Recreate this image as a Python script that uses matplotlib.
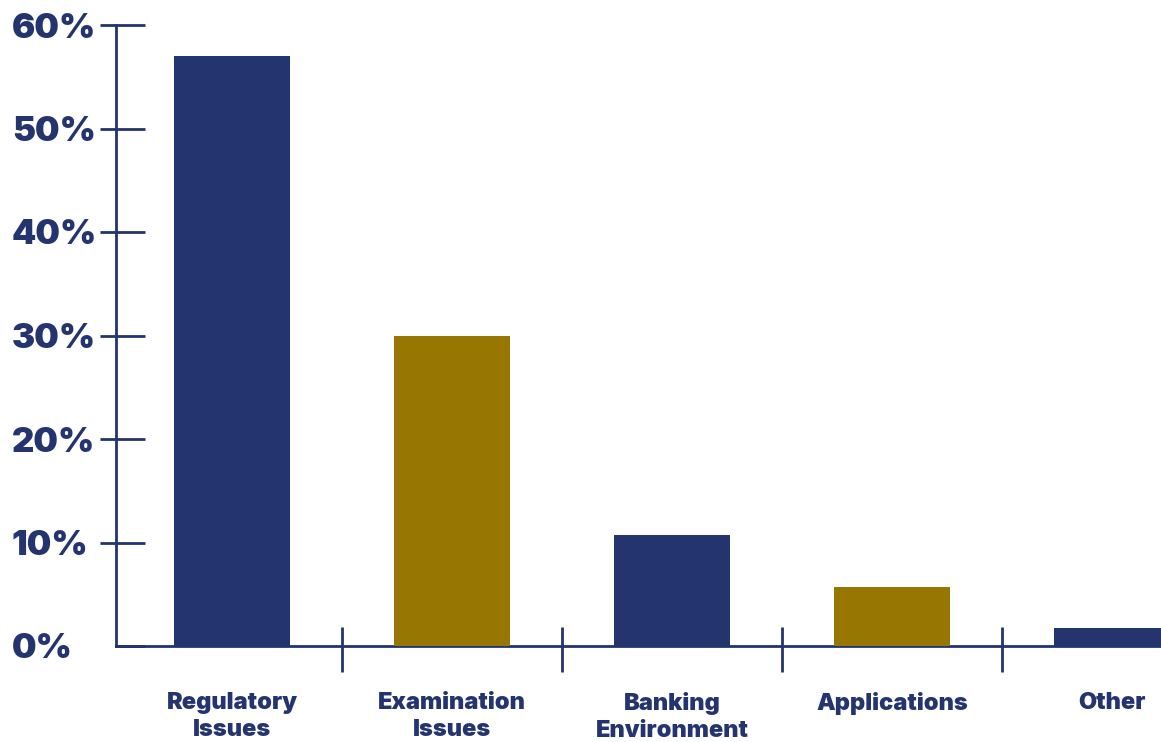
import matplotlib.pyplot as plt
from matplotlib.ticker import FixedLocator

# data
categories = ["Regulatory\nIssues", "Examination\nIssues", "Banking\nEnvironment",
              "Applications", "Other"]
shares = [57, 30, 10.7, 5.7, 1.7]
y_ticks = [0, 10, 20, 30, 40, 50, 60]
y_labels = ["0%", "10%", "20%", "30%", "40%", "50%", "60%"]

navy = "#23346E"
gold = "#987602"
bar_colors = [navy, gold, navy, gold, navy]

plt.rcParams['font.family'] = ['Inter', 'DejaVu Sans']

W, H = 1161, 742
fig = plt.figure(figsize=(W / 100, H / 100), dpi=100)
ax = fig.add_axes([116 / W, 96 / H, 1 - 116 / W, (646 - 25) / H])

x = list(range(len(categories)))
ax.bar(x, shares, width=0.527, color=bar_colors, zorder=3)
ax.set_xlim(-0.527, 4.223)
ax.set_ylim(0, 60)

for s in ["top", "right"]:
    ax.spines[s].set_visible(False)
for s in ["left", "bottom"]:
    ax.spines[s].set_color(navy)
    ax.spines[s].set_linewidth(2)

# y axis: ticks crossing the axis line, labels left aligned
ax.yaxis.set_major_locator(FixedLocator(y_ticks))
ax.set_yticklabels(y_labels)
ax.yaxis.set_minor_locator(FixedLocator(y_ticks[1:]))
ax.yaxis.remove_overlapping_locs = False
ax.tick_params(axis="y", which="major", direction="in", length=21, width=2,
               color=navy, pad=75, labelsize=25, labelcolor=navy)
ax.tick_params(axis="y", which="minor", direction="out", length=11.5, width=2,
               color=navy)
for lab in ax.get_yticklabels():
    lab.set_horizontalalignment("left")
    lab.set_fontweight("black")

# x axis: category labels, separators between groups
ax.set_xticks(x)
ax.set_xticklabels(categories, fontsize=17, fontweight="black", color=navy,
                   linespacing=1.3)
ax.tick_params(axis="x", which="major", length=0, pad=33)
seps = [i + 0.5 for i in x[:-1]]
ax.vlines(seps, -26 / 621, 19 / 621, transform=ax.get_xaxis_transform(),
          colors=navy, linewidth=2, clip_on=False)

fig.savefig("out.png", dpi=100)
